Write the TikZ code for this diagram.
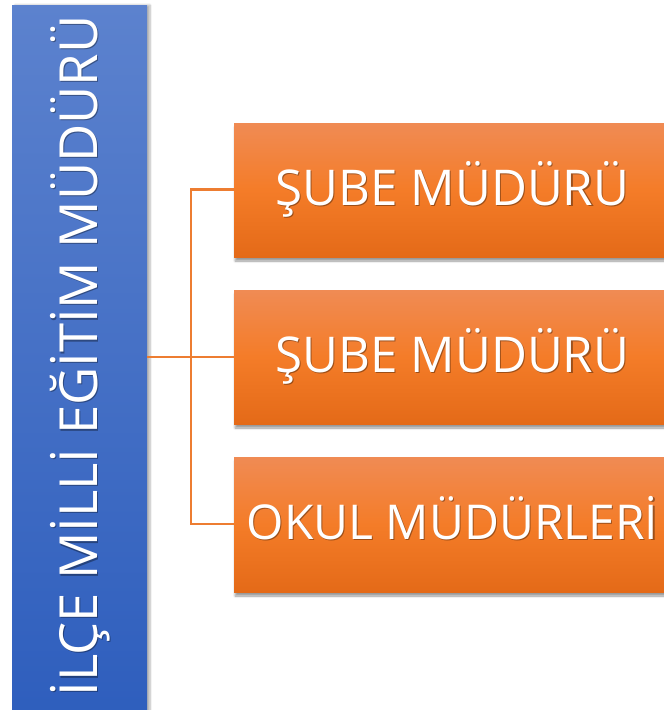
\documentclass[tikz,border=0pt]{standalone}
\usepackage{fontspec}
\setmainfont{Open Sans}
\usetikzlibrary{shadows.blur}
\definecolor{bluetop}{RGB}{92,130,206}
\definecolor{bluebot}{RGB}{46,94,189}
\definecolor{ortop}{RGB}{240,139,84}
\definecolor{ormid}{RGB}{244,124,40}
\definecolor{orbot}{RGB}{228,106,24}
\definecolor{linec}{RGB}{237,125,49}
\tikzset{
  bluebar/.style={draw=none, top color=bluetop, bottom color=bluebot, blur shadow={shadow xshift=3pt, shadow yshift=0pt, shadow blur steps=6, shadow opacity=30}},
  orbox/.style={draw=none, top color=ortop, bottom color=orbot, middle color=ormid, blur shadow={shadow xshift=1pt, shadow yshift=-4pt, shadow blur steps=6, shadow opacity=40}},
  conn/.style={draw=linec, line width=2.2pt},
  lbl/.style={text=white, inner sep=0pt},
  shd/.style={text=black, opacity=0.35, inner sep=0pt},
  bigf/.style={font=\fontsize{52.5}{52.5}\selectfont},
  medf/.style={font=\fontsize{49.3}{49.3}\selectfont},
  okf/.style={font=\fontsize{48}{48}\selectfont},
}
\begin{document}
\begin{tikzpicture}[x=1pt,y=-1pt]
\useasboundingbox (0,0) rectangle (664,710);
\begin{scope}
\clip (0,0) rectangle (664,710);
% blue bar
\path[bluebar] (12,5) rectangle (147,720);
\node[shd, bigf, rotate=90, anchor=base] at (98.2,357.2) {İLÇE MİLLİ EĞİTİM MÜDÜRÜ};
\node[lbl, bigf, rotate=90, anchor=base] (t0) at (97,356) {İLÇE MİLLİ EĞİTİM MÜDÜRÜ};
% orange boxes
\path[orbox] (234,123) rectangle (672,257);
\path[orbox] (234,290) rectangle (672,424);
\path[orbox] (234,457) rectangle (672,592);
\node[shd, medf, anchor=base] at (453.7,206.2) {ŞUBE MÜDÜRÜ};
\node[lbl, medf, anchor=base] (t1) at (452.5,205) {ŞUBE MÜDÜRÜ};
\node[shd, medf, anchor=base] at (453.7,373.2) {ŞUBE MÜDÜRÜ};
\node[lbl, medf, anchor=base] (t2) at (452.5,372) {ŞUBE MÜDÜRÜ};
\node[shd, okf, anchor=base] at (453.7,540.2) {OKUL MÜDÜRLERİ};
\node[lbl, okf, anchor=base] (t3) at (452.5,539) {OKUL MÜDÜRLERİ};
% connectors
\coordinate (jx) at (190.7,357);
\coordinate (b1) at (234,189.5);
\coordinate (b2) at (234,357);
\coordinate (b3) at (234,524);
\coordinate (barR) at (147,357);
\draw[conn] (barR) -- (b2);
\draw[conn] (b1) -| (jx) |- (b3);
\end{scope}
\end{tikzpicture}
\end{document}
